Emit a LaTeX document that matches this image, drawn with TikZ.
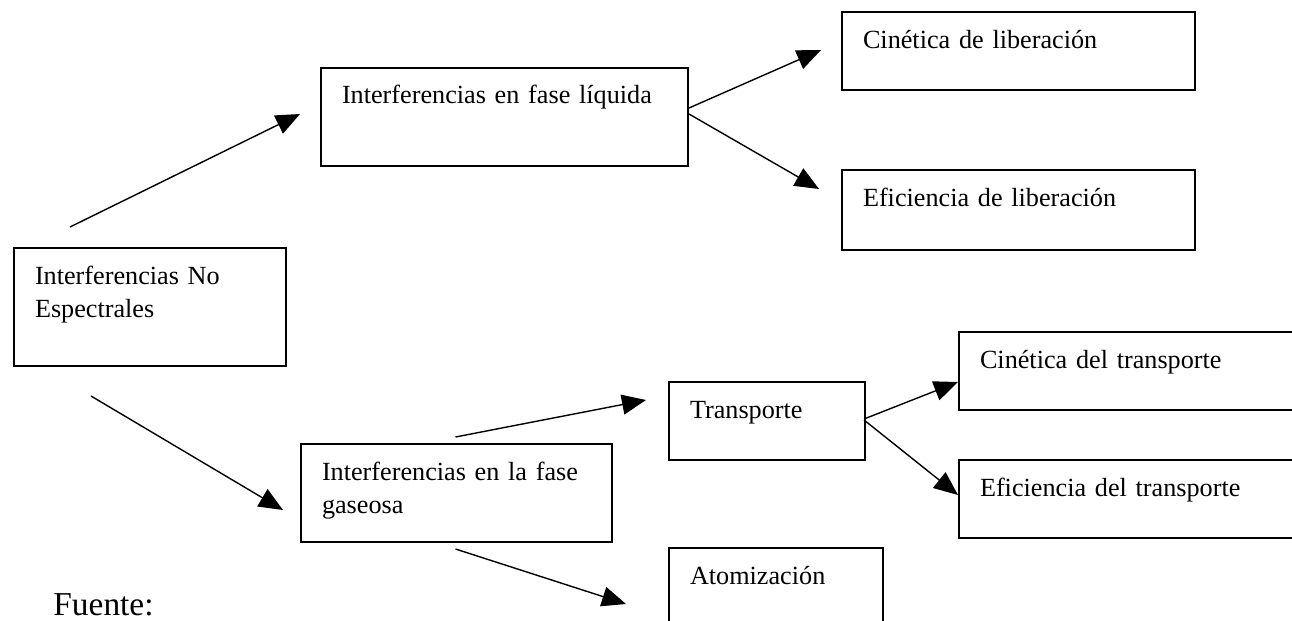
\documentclass[tikz,border=0pt]{standalone}
\usepackage{fontspec}
\setmainfont{Liberation Serif}
\usetikzlibrary{calc,arrows.meta}
\tikzset{
    % boxes with text in the upper left corner, and the arrows between them
    box/.style={draw,line width=1pt,anchor=north west,align=left,inner xsep=10.5pt,inner ysep=0pt,text height=18pt,font=\fontsize{13.1}{16.5}\selectfont},
    arr/.style={-{Triangle[length=12pt,width=10pt]},line width=0.7pt}
    }
\begin{document}
\begin{tikzpicture}[x=0.5pt,y=-0.5pt] % one unit is one pixel of the page, y grows downwards
    \useasboundingbox (0,0) rectangle (1292,621);
    \clip (0,0) rectangle (1292,621);
    % The boxes
    \node(ne)[box,text width=115pt,text depth=41pt] at (13,247) {Interferencias No\\Espectrales};
    \node(liq)[box,text width=162.5pt,text depth=31pt] at (320,67) {Interferencias en fase líquida};
    \node(cinlib)[box,text width=155.5pt,text depth=21pt] at (841,11) {Cinética de liberación};
    \node(eflib)[box,text width=155.5pt,text depth=22pt] at (841,169) {Eficiencia de liberación};
    \node(gas)[box,text width=134.5pt,text depth=31pt] at (300,443) {Interferencias en la fase\\gaseosa};
    \node(trans)[box,text width=77pt,text depth=21pt] at (668,381) {Transporte};
    \node(atom)[box,text width=86pt,text depth=32pt] at (668,547) {Atomización};
    \node(cintr)[box,text width=179pt,text depth=21pt] at (958,331) {Cinética del transporte};
    \node(eftr)[box,text width=179pt,text depth=21pt] at (958,459) {Eficiencia del transporte};
    \node(src)[anchor=base west,inner sep=0pt,text depth=0pt,font=\fontsize{16.7}{20}\selectfont] at (53,615) {Fuente:};
    % The arrows
    \draw[arr] ($(ne.north west)+(57,-20)$) -- ($(liq.west)+(-20,-3)$);
    \draw[arr] ($(liq.east)+(0,-9)$) -- ($(cinlib.west)+(-20,-1)$);
    \draw[arr] ($(liq.east)+(0,-3)$) -- ($(eflib.west)+(-22,-21)$);
    \draw[arr] ($(ne.south west)+(78,29)$) -- ($(gas.west)+(-17,17)$);
    \draw[arr] ($(gas.north)+(-1,-6)$) -- ($(trans.west)+(-22,-21)$);
    \draw[arr] ($(gas.south)+(-1,6)$) -- ($(atom.north west)+(-42,57)$);
    \draw[arr] ($(trans.east)+(-2,-2)$) -- ($(cintr.west)+(0,11)$);
    \draw[arr] ($(trans.east)+(-2,-1)$) -- ($(eftr.west)+(0,-4)$);
\end{tikzpicture}
\end{document}
